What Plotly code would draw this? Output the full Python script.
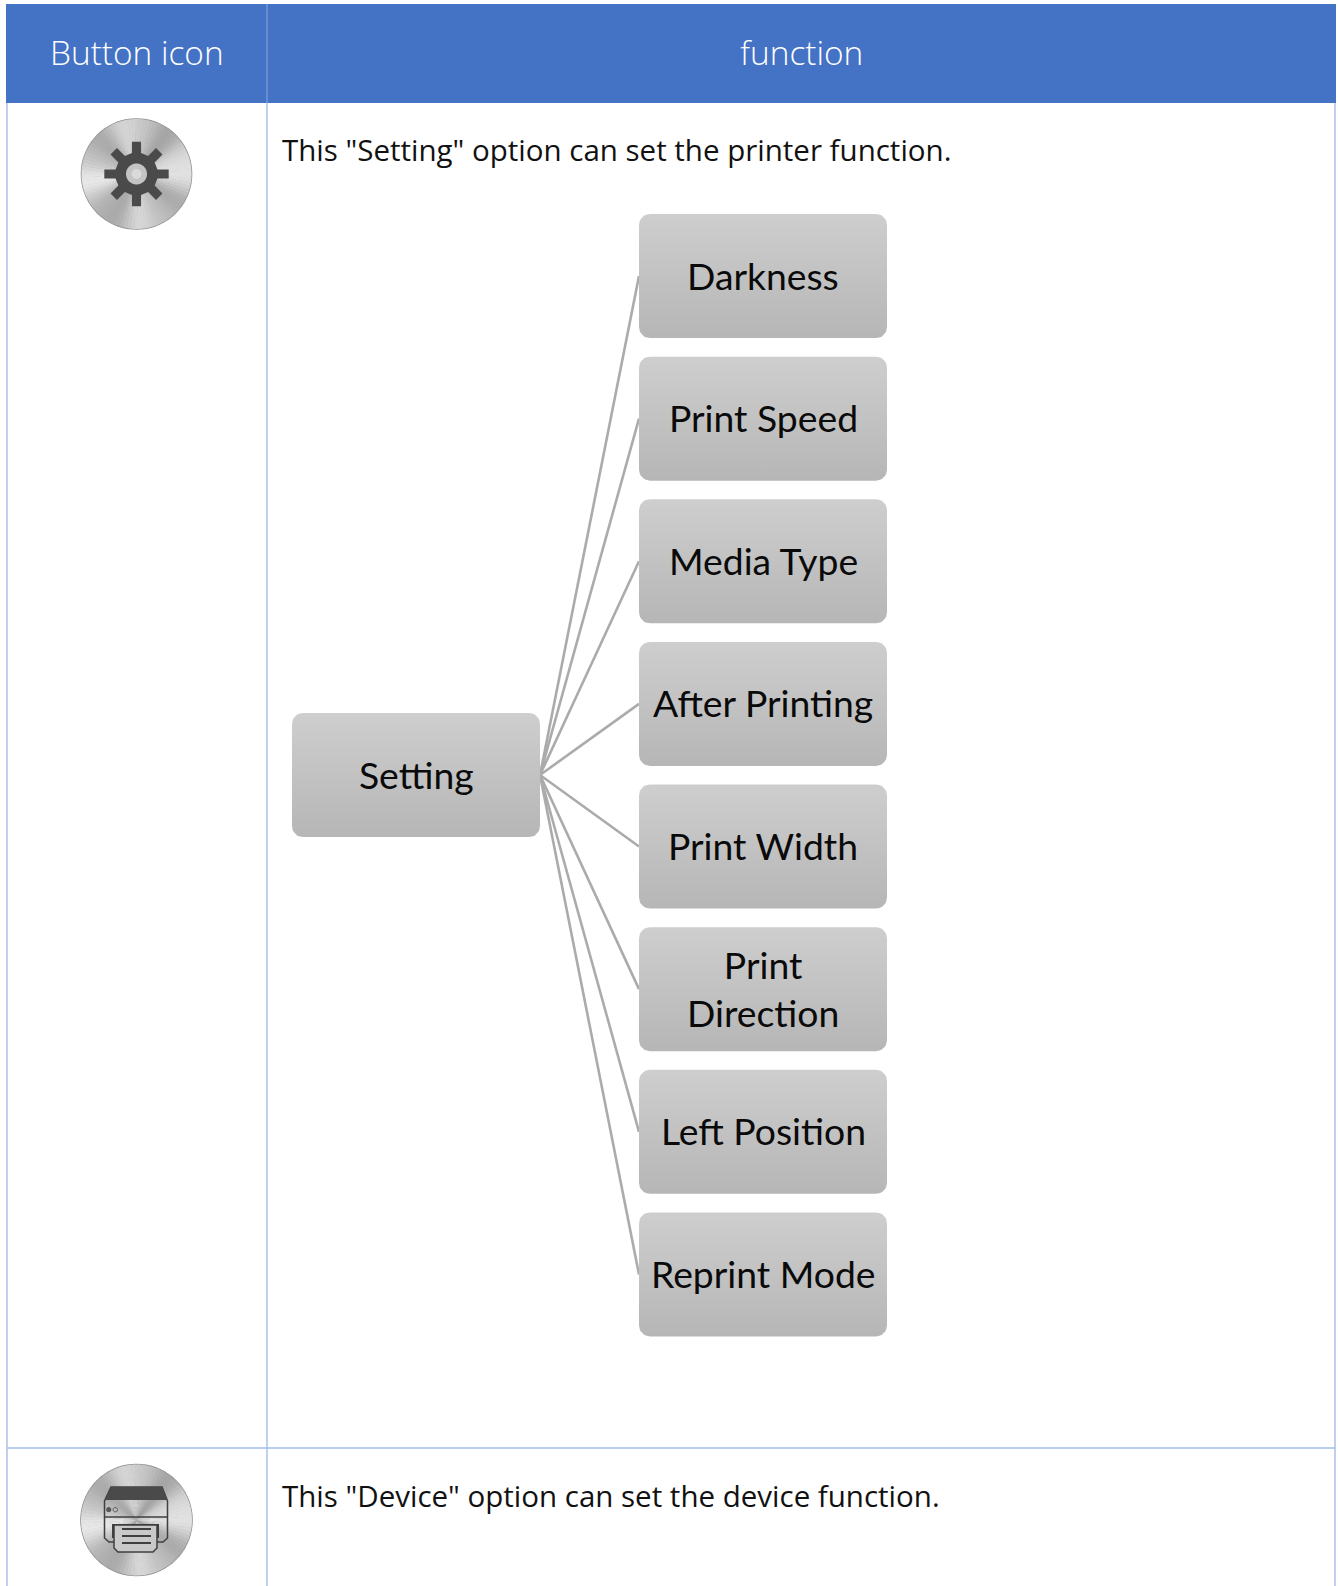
import math
import plotly.graph_objects as go

WIDTH, HEIGHT = 1338, 1586

header_labels = ["Button icon", "function"]
intro_texts = ['This "Setting" option can set the printer function.',
               'This "Device" option can set the device function.']
root_label = "Setting"
child_labels = ["Darkness", "Print Speed", "Media Type", "After Printing",
                "Print Width", "Print<br>Direction", "Left Position", "Reprint Mode"]

BLUE = "#4472C4"
GRID = "#A4BDE8"
LINK = "#ABABAB"
BODY_FONT = "Open Sans"
BOX_FONT = "Lato"

COL_L, COL_M, COL_R = 7, 267, 1335
HEAD_T, HEAD_B = 4, 103
ROW_SPLIT = 1448
BOX_W, BOX_H = 248, 124
CHILD_X, CHILD_Y, CHILD_STEP = 639, 214, 142.63
ROOT_X, ROOT_Y = 292, 713

fig = go.Figure()
shapes, annots = [], []


def rect(x0, y0, x1, y1, fill, layer="below"):
    shapes.append(dict(type="rect", x0=x0, y0=y0, x1=x1, y1=y1, fillcolor=fill,
                       line=dict(width=0), layer=layer))


def line(x0, y0, x1, y1, color, w):
    shapes.append(dict(type="line", x0=x0, y0=y0, x1=x1, y1=y1,
                       line=dict(color=color, width=w), layer="below"))


def path(points, fill=None, stroke=None, w=0, closed=True):
    d = "M" + " L".join(f"{x:.2f},{y:.2f}" for x, y in points) + (" Z" if closed else "")
    shapes.append(dict(type="path", path=d, fillcolor=fill or "rgba(0,0,0,0)",
                       line=dict(color=stroke or "rgba(0,0,0,0)", width=w), layer="above"))


def text(x, y, s, size, color, font, anchor="center", weight=None):
    f = dict(size=size, color=color, family=font)
    if weight:
        f["weight"] = weight
    annots.append(dict(x=x, y=y, text=s, showarrow=False, xanchor=anchor, yanchor="middle",
                       font=f, align="center"))


def rounded(x, y, w, h, r=11, n=8):
    pts = []
    for cx, cy, a0 in [(x + w - r, y + r, -90), (x + w - r, y + h - r, 0),
                       (x + r, y + h - r, 90), (x + r, y + r, 180)]:
        for i in range(n + 1):
            a = math.radians(a0 + 90 * i / n)
            pts.append((cx + r * math.cos(a), cy + r * math.sin(a)))
    pts.append(pts[0])
    return pts


def box(x, y, label):
    pts = rounded(x, y, BOX_W, BOX_H)
    fig.add_trace(go.Scatter(
        x=[p[0] for p in pts], y=[p[1] for p in pts], mode="lines", fill="toself",
        line=dict(width=0), hoverinfo="skip", showlegend=False,
        fillgradient=dict(type="vertical", colorscale=[[0, "#B6B6B6"], [1, "#CECECE"]])))
    text(x + BOX_W / 2, y + BOX_H / 2 - 1, label, 37.3, "#0A0A0A", BOX_FONT)


def circle(cx, cy, r, n=72):
    return [(cx + r * math.cos(2 * math.pi * i / n), cy + r * math.sin(2 * math.pi * i / n))
            for i in range(n)]


def metal_disc(cx, cy, r):
    # Brushed-metal look: conic wedges, light around the axes and darker between
    path(circle(cx, cy, r + 0.8), "#8F8F8F")
    n = 90
    for i in range(n):
        a0 = 2 * math.pi * i / n
        a1 = 2 * math.pi * (i + 1.15) / n
        m = (a0 + a1) / 2
        g = int(196 + 24 * math.cos(4 * m + 0.5) + 8 * math.cos(2 * m) + 4 * math.sin(9 * m))
        g = max(160, min(236, g))
        c = f"rgb({g},{g},{g})"
        path([(cx, cy)] + [(cx + r * math.cos(a0 + (a1 - a0) * k / 3),
                            cy + r * math.sin(a0 + (a1 - a0) * k / 3)) for k in range(4)], c)


def gear_icon(cx, cy):
    metal_disc(cx, cy, 55)
    dark = "#4A4A4A"
    pts = []
    teeth = 8
    for i in range(teeth):
        c = i * 2 * math.pi / teeth - math.pi / 2
        for rad, off in [(21.5, -0.215), (32.5, -0.14), (32.5, 0.14), (21.5, 0.215)]:
            pts.append((cx + rad * math.cos(c + off), cy + rad * math.sin(c + off)))
    path(pts, dark)
    path(circle(cx, cy, 10.5), "#C4C4C4")
    path(circle(cx, cy, 5), "#DADADA")


def printer_icon(cx, cy):
    metal_disc(cx, cy, 55.5)
    dark = "#3F3F3F"
    path([(104.5, 1501), (104.5, 1538), (109, 1542), (163, 1542), (167.5, 1538), (167.5, 1501),
          (162, 1487), (111, 1487)], None, dark, 1.5)
    path([(105, 1500), (111, 1487), (162, 1487), (167.5, 1500)], "#4A4A4A")
    path([(104.5, 1517), (167.5, 1517)], None, dark, 1.5, closed=False)
    path(circle(108.7, 1509.7, 2.6, 16), "#555555")
    path(circle(115.3, 1509.7, 2.2, 16), None, "#555555", 1)
    path([(112, 1524), (159, 1524), (159, 1538), (112, 1538)], "#3F3F3F")
    path([(114, 1525), (157, 1525), (157, 1548), (153, 1552), (118, 1552), (114, 1548)],
         "#C9C9C9", dark, 1.5)
    for y in (1529, 1536, 1543):
        path([(122, y), (151, y)], None, dark, 2, closed=False)


# Table
rect(6, HEAD_T, COL_R + 1, HEAD_B, BLUE)
line(COL_M, HEAD_T, COL_M, HEAD_B, "#7F9FD8", 1.2)
for x in (COL_L, COL_M, COL_R):
    line(x, HEAD_B, x, HEIGHT, GRID, 1.4)
line(COL_L, ROW_SPLIT, COL_R, ROW_SPLIT, GRID, 1.4)

text((6 + COL_M) / 2, 52, header_labels[0], 33.4, "white", BODY_FONT, weight=300)
text((COL_M + COL_R) / 2, 52, header_labels[1], 33.4, "white", BODY_FONT, weight=300)
text(280, 149.5, intro_texts[0], 29.5, "#111111", BODY_FONT, "left")
text(280, 1495.5, intro_texts[1], 29.5, "#111111", BODY_FONT, "left")

# Tree
rx, ry = ROOT_X + BOX_W, ROOT_Y + BOX_H / 2
for i in range(len(child_labels)):
    line(rx, ry, CHILD_X, CHILD_Y + CHILD_STEP * i + BOX_H / 2, LINK, 2.6)
box(ROOT_X, ROOT_Y, root_label)
for i, lab in enumerate(child_labels):
    box(CHILD_X, CHILD_Y + CHILD_STEP * i, lab)

gear_icon(136.5, 174)
printer_icon(136.5, 1520)

axis = dict(visible=False, showgrid=False, zeroline=False, fixedrange=True)
fig.update_layout(
    width=WIDTH, height=HEIGHT, margin=dict(l=0, r=0, t=0, b=0),
    paper_bgcolor="white", plot_bgcolor="white", showlegend=False,
    xaxis=dict(range=[0, WIDTH], **axis),
    yaxis=dict(range=[HEIGHT, 0], **axis),
    shapes=shapes, annotations=annots,
)
fig.write_html("out.html", config=dict(displayModeBar=False),
               post_script="document.body.style.margin='0';document.documentElement.style.overflow='hidden';")
